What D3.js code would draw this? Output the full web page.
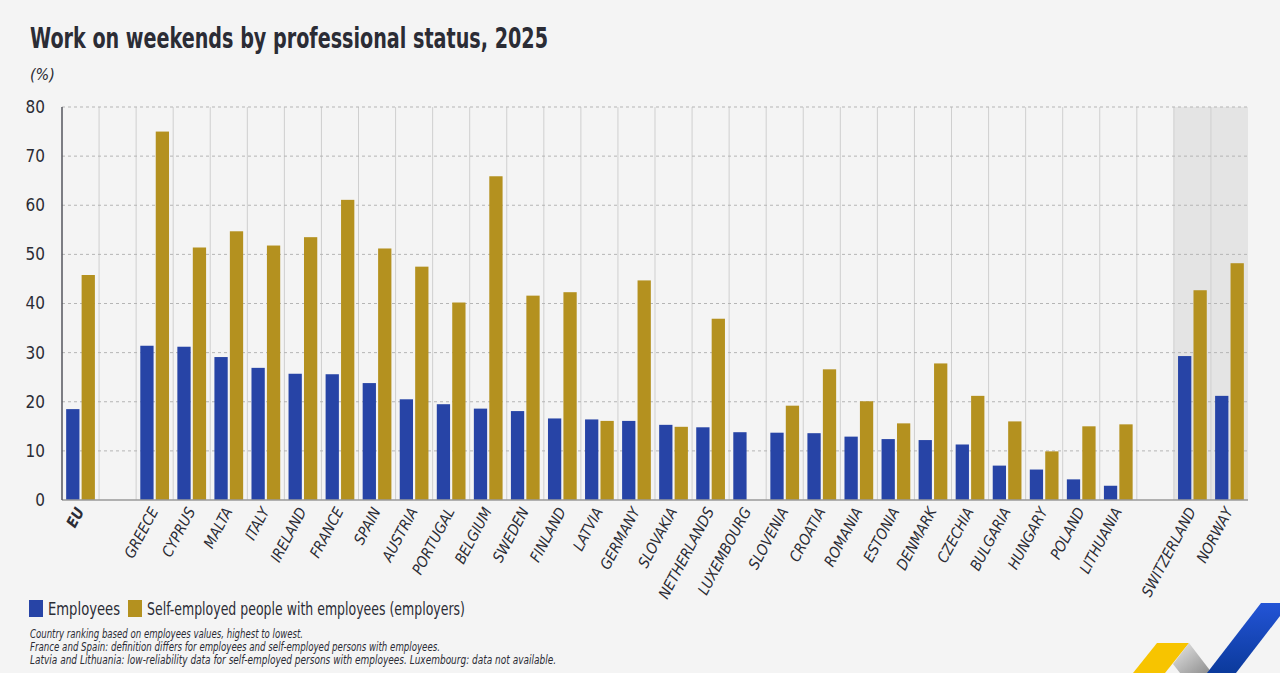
<!DOCTYPE html>
<html>
<head>
<meta charset="utf-8">
<script src="https://cdn.jsdelivr.net/npm/d3@7"></script>
<style>
  body { margin: 0; background: #f4f4f4; }
  text { font-family: "Liberation Sans Narrow", "DejaVu Sans Condensed", "Roboto Condensed", sans-serif; fill: #2b2c35; }
</style>
</head>
<body>
<svg id="chart" width="1280" height="673"></svg>
<script>
// countries in chart order (gaps are added later)
var countries = ["EU", "GREECE", "CYPRUS", "MALTA", "ITALY", "IRELAND", "FRANCE", "SPAIN",
  "AUSTRIA", "PORTUGAL", "BELGIUM", "SWEDEN", "FINLAND", "LATVIA", "GERMANY", "SLOVAKIA",
  "NETHERLANDS", "LUXEMBOURG", "SLOVENIA", "CROATIA", "ROMANIA", "ESTONIA", "DENMARK",
  "CZECHIA", "BULGARIA", "HUNGARY", "POLAND", "LITHUANIA", "SWITZERLAND", "NORWAY"];

var employees = [18.5, 31.4, 31.2, 29.1, 26.9, 25.7, 25.6, 23.8, 20.5, 19.5, 18.6, 18.1,
  16.6, 16.4, 16.1, 15.3, 14.8, 13.8, 13.7, 13.6, 12.9, 12.4, 12.2, 11.3, 7.0, 6.2, 4.2,
  2.9, 29.3, 21.2];

var employers = [45.8, 75.0, 51.4, 54.7, 51.8, 53.5, 61.1, 51.2, 47.5, 40.2, 65.9, 41.6,
  42.3, 16.1, 44.7, 14.9, 36.9, null, 19.2, 26.6, 20.1, 15.6, 27.8, 21.2, 16.0, 9.9, 15.0,
  15.4, 42.7, 48.2];

var yTicks = [0, 10, 20, 30, 40, 50, 60, 70, 80];
var seriesNames = ["Employees", "Self-employed people with employees (employers)"];
var colors = ["#2744a6", "#b4911f"];

var notes = [
  "Country ranking based on employees values, highest to lowest.",
  "France and Spain: definition differs for employees and self-employed persons with employees.",
  "Latvia and Lithuania: low-reliability data for self-employed persons with employees. Luxembourg: data not available."
];
var noteWidths = [273, 410, 526];

var svg = d3.select("#chart");
svg.append("rect").attr("width", 1280).attr("height", 673).attr("fill", "#f4f4f4");

// slots with blank gaps after EU and before the non-EU countries
var slots = ["EU", "gap1"].concat(countries.slice(1, 28), ["gap2"], countries.slice(28));

var pLeft = 62, pRight = 1248, pTop = 107, pBottom = 500;
var x = d3.scaleBand().domain(slots).range([pLeft, pRight]).padding(0);
var y = d3.scaleLinear().domain([0, 80]).range([pBottom, pTop]);
var x1 = d3.scaleBand().domain([0, 1]).range([0, x.bandwidth()])
  .paddingInner(0.14).paddingOuter(0.27);

// shaded non-EU area
svg.append("rect")
  .attr("x", x("SWITZERLAND")).attr("y", pTop)
  .attr("width", pRight - x("SWITZERLAND")).attr("height", pBottom - pTop)
  .attr("fill", "#e4e4e4");

// vertical separators
svg.append("g").selectAll("line")
  .data(slots.slice(1))
  .enter().append("line")
  .attr("x1", function(d) { return x(d); })
  .attr("x2", function(d) { return x(d); })
  .attr("y1", pTop).attr("y2", pBottom)
  .attr("stroke", "#cfcfcf").attr("stroke-width", 1);

// horizontal dashed grid
svg.append("g").selectAll("line")
  .data(yTicks.slice(1))
  .enter().append("line")
  .attr("x1", pLeft).attr("x2", pRight)
  .attr("y1", function(d) { return y(d); })
  .attr("y2", function(d) { return y(d); })
  .attr("stroke", "#b5b5b5").attr("stroke-dasharray", "3,3");

// bars
var rows = countries.map(function(c, i) { return { c: c, v: [employees[i], employers[i]] }; });
var groups = svg.append("g").selectAll("g")
  .data(rows)
  .enter().append("g")
  .attr("transform", function(d) { return "translate(" + x(d.c) + ",0)"; });

groups.selectAll("rect")
  .data(function(d) {
    return d.v.map(function(v, k) { return { k: k, v: v }; })
      .filter(function(e) { return e.v != null; });
  })
  .enter().append("rect")
  .attr("x", function(d) { return x1(d.k); })
  .attr("width", x1.bandwidth())
  .attr("y", function(d) { return y(d.v); })
  .attr("height", function(d) { return y(0) - y(d.v); })
  .attr("fill", function(d) { return colors[d.k]; });

// axes lines
svg.append("line").attr("x1", pLeft).attr("x2", pRight).attr("y1", pBottom).attr("y2", pBottom)
  .attr("stroke", "#9a9a9a").attr("stroke-width", 1.5);
svg.append("line").attr("x1", pLeft).attr("x2", pLeft).attr("y1", pTop).attr("y2", pBottom)
  .attr("stroke", "#55565e").attr("stroke-width", 1.5);

// y axis labels
var yAxis = svg.append("g")
  .attr("transform", "translate(" + pLeft + ",0)")
  .call(d3.axisLeft(y).tickValues(yTicks).tickSize(0).tickPadding(17));
yAxis.select(".domain").remove();
yAxis.selectAll("text").style("font-size", "17px").attr("font-family", null).attr("fill", "#2b2c35");

// x labels
svg.append("g").selectAll("text")
  .data(countries)
  .enter().append("text")
  .attr("transform", function(d) {
    return "translate(" + (x(d) + x.bandwidth() / 2 + 4) + ",511) rotate(-62)";
  })
  .attr("text-anchor", "end")
  .style("font-size", "15px")
  .style("font-style", "italic")
  .style("font-weight", function(d) { return d == "EU" ? "bold" : "normal"; })
  .text(function(d) { return d; });

// title and unit
svg.append("text").attr("x", 30).attr("y", 48)
  .attr("textLength", 518).attr("lengthAdjust", "spacingAndGlyphs")
  .style("font-size", "28px").style("font-weight", "bold")
  .text("Work on weekends by professional status, 2025");
svg.append("text").attr("x", 30).attr("y", 80)
  .style("font-size", "16px").style("font-style", "italic")
  .text("(%)");

// legend
var lx = [29, 128];
var lw = [72, 318];
seriesNames.forEach(function(s, i) {
  svg.append("rect").attr("x", lx[i]).attr("y", 600).attr("width", 14).attr("height", 17)
    .attr("fill", colors[i]);
  svg.append("text").attr("x", lx[i] + 19).attr("y", 615)
    .attr("textLength", lw[i]).attr("lengthAdjust", "spacingAndGlyphs")
    .style("font-size", "18px").text(s);
});

// footnotes
svg.append("g").selectAll("text")
  .data(notes)
  .enter().append("text")
  .attr("x", 30)
  .attr("y", function(d, i) { return 638 + i * 13; })
  .attr("textLength", function(d, i) { return noteWidths[i]; })
  .attr("lengthAdjust", "spacingAndGlyphs")
  .style("font-size", "12px").style("font-style", "italic")
  .text(function(d) { return d; });

// logo, bottom right
var defs = svg.append("defs");
var gb = defs.append("linearGradient").attr("id", "gb").attr("x1", 0).attr("y1", 0).attr("x2", 0).attr("y2", 1);
gb.append("stop").attr("offset", 0).attr("stop-color", "#2354d6");
gb.append("stop").attr("offset", 1).attr("stop-color", "#0b3a9c");
var gg = defs.append("linearGradient").attr("id", "gg").attr("x1", 0).attr("y1", 0).attr("x2", 1).attr("y2", 1);
gg.append("stop").attr("offset", 0).attr("stop-color", "#e8e8e8");
gg.append("stop").attr("offset", 1).attr("stop-color", "#8c8c8c");

svg.append("polygon").attr("points", "1133,673 1157,643 1189,643 1165,673").attr("fill", "#f7c400");
svg.append("polygon").attr("points", "1189,643 1212,673 1180,673 1173,664").attr("fill", "url(#gg)");
svg.append("polygon").attr("points", "1207,673 1261,603 1290,603 1236,673").attr("fill", "url(#gb)");
</script>
</body>
</html>
